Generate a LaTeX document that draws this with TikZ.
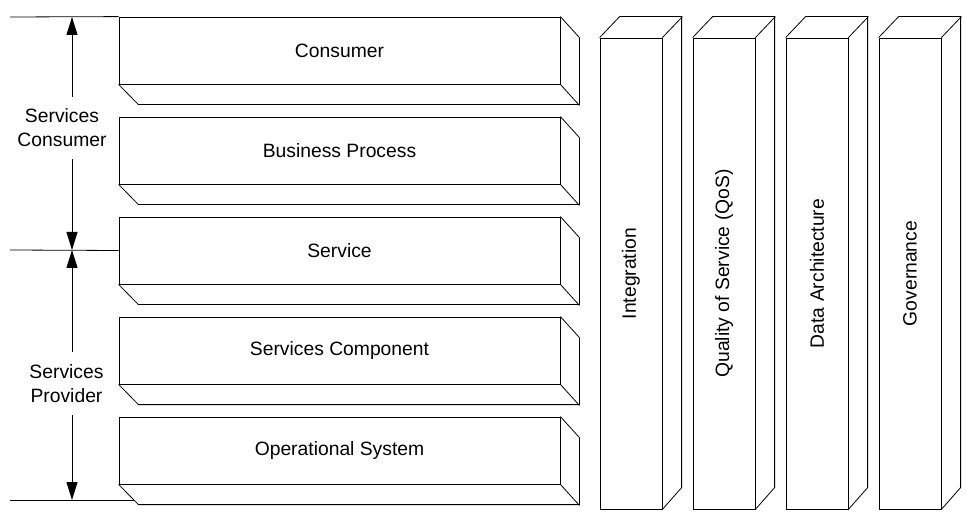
\documentclass[tikz,border=0pt]{standalone}
\usepackage{fontspec}
\setmainfont{Liberation Sans}
\usepackage{tikz}
\usetikzlibrary{calc}
\usetikzlibrary{positioning, arrows.meta}
\tikzset{
	layer/.style={draw, minimum width=441pt, minimum height=67pt, inner sep=0pt},
	pillar/.style={draw, minimum width=62pt, minimum height=471pt, inner sep=0pt},
	side/.style={align=center, inner xsep=2pt, inner ysep=12pt},
	dim/.style={-{Triangle[length=18pt,width=11pt]}},
}

\begin{document}
\begin{tikzpicture}[x=1pt, y=-1pt, line width=0.8pt, font=\fontsize{19.3}{24}\selectfont]
		\useasboundingbox (0,0) rectangle (966,526);

		% horizontal layers
		\foreach \name/\txt [count=\i from 0] in {cons/Consumer, bproc/Business Process, serv/Service, scomp/Services Component, opsys/Operational System}
		{
			\node[layer] (\name) at (339.5, 50.5+100*\i) {\txt};
			\draw (\name.north east) -- ++(19,21) -- ++(0,67) -- ++(-441,0) -- (\name.south west);
			\draw (\name.south east) -- ++(19,21);
		}

		% vertical pillars
		\foreach \name/\txt [count=\i from 0] in {integ/Integration, qos/Quality of Service (QoS), darch/Data Architecture, gov/Governance}
		{
			\node[pillar] (\name) at (631+93*\i, 273.5) {};
			\node[rotate=90] (\name txt) at (\name.center) {\txt};
			\draw (\name.north west) -- ++(20,-21) -- ++(62,0) -- ++(0,471) -- (\name.south east);
			\draw (\name.north east) -- ++(20,-21);
		}

		\coordinate (ltop) at (10,17);
		\coordinate (lmid) at (10,250);
		\coordinate (lbot) at (10,500);
		\coordinate (bend) at (134,500);
		\draw (ltop) -- (cons.north west);
		\draw (lmid) -- (serv.west);
		\draw (lbot) -- (bend);

		\coordinate (atop) at (72,17);
		\coordinate (amid) at (72,250);
		\coordinate (abot) at (72,500);

		\node[side] (consumer) at (62,128) {Services\\Consumer};
		\node[side] (provider) at (66.5,383.5) {Services\\Provider};

		\draw[dim] (atop |- consumer.north) -- (atop);
		\draw[dim] (atop |- consumer.south) -- (amid);
		\draw[dim] (amid |- provider.north) -- (amid);
		\draw[dim] (amid |- provider.south) -- (abot);
	\end{tikzpicture}
\end{document}
